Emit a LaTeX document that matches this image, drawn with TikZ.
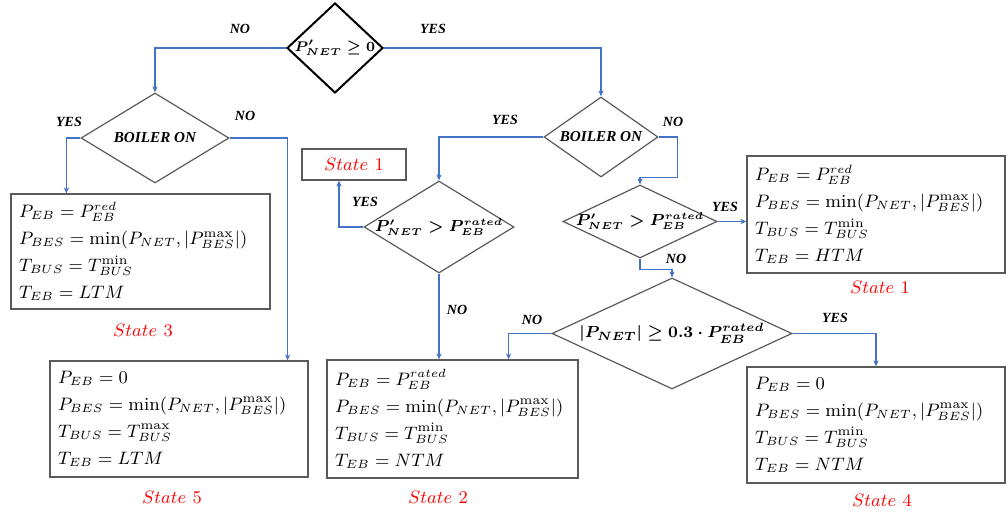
\documentclass[tikz,border=0pt]{standalone}
\usepackage{fontspec}
\newfontfamily\labfont{Liberation Serif}
\usetikzlibrary{shapes.geometric,arrows.meta}
\definecolor{flowblue}{RGB}{68,114,196}
\definecolor{edgegray}{RGB}{90,90,90}
\definecolor{statered}{RGB}{255,0,0}
\tikzset{
  dia/.style={diamond, draw=edgegray, line width=0.6pt, inner sep=0pt},
  topdia/.style={diamond, draw=black, line width=1pt, inner sep=0pt},
  statebox/.style={draw=edgegray, line width=0.6pt, rectangle, inner xsep=4pt, inner ysep=0pt,
    align=left, font=\fontsize{9.2}{13.5}\selectfont},
  flow/.style={draw=flowblue, line width=0.7pt, -{Stealth[length=3pt,width=2.6pt]}},
  yn/.style={font=\labfont\bfseries\itshape\fontsize{7}{8}\selectfont, inner sep=1pt},
  stlabel/.style={text=statered, font=\fontsize{9.5}{11}\selectfont, inner sep=1pt},
  dtext/.style={font=\boldmath\fontsize{#1}{#1}\selectfont, inner sep=0pt},
}
\begin{document}
\begin{tikzpicture}[x=0.5pt,y=-0.5pt]
\useasboundingbox (0,0) rectangle (1008,512);

% diamonds
\node[topdia, minimum width=48pt, minimum height=45pt,
  label={[dtext=7.2]center:{$P'_{NET}\geq 0$}}] (d0) at (335,48) {};
\node[dia, minimum width=74pt, minimum height=45pt,
  label={[yn, font=\labfont\bfseries\itshape\fontsize{7.6}{8}\selectfont]center:{BOILER ON}}] (dl) at (155,138) {};
\node[dia, minimum width=57pt, minimum height=40pt,
  label={[yn, font=\labfont\bfseries\itshape\fontsize{7.6}{8}\selectfont]center:{BOILER ON}}] (dr) at (601,137) {};
\node[dia, minimum width=75pt, minimum height=46pt,
  label={[dtext=7.8]center:{$P'_{NET} > P_{EB}^{rated}$}}] (dm) at (439,227) {};
\node[dia, minimum width=77pt, minimum height=36.5pt,
  label={[dtext=7.8]center:{$P'_{NET} > P_{EB}^{rated}$}}] (dr2) at (640,221.5) {};
\node[dia, minimum width=120pt, minimum height=55.5pt,
  label={[dtext=8.5]center:{$|P_{NET}|\geq 0.3\cdot P_{EB}^{rated}$}}] (db) at (672,333.5) {};

% state boxes
\node[statebox, text width=121.5pt, minimum height=57.5pt] (s3) at (140.5,251.5)
  {$P_{EB} = P_{EB}^{red}$\\ \mbox{$P_{BES} = \min(P_{NET}, |P_{BES}^{\max}|)$}\\ $T_{BUS} = T_{BUS}^{\min}$\\ $T_{EB} = LTM$};
\node[statebox, text width=121pt, minimum height=58pt] (s5) at (179,419)
  {$P_{EB} = 0$\\ \mbox{$P_{BES} = \min(P_{NET}, |P_{BES}^{\max}|)$}\\ $T_{BUS} = T_{BUS}^{\max}$\\ $T_{EB} = LTM$};
\node[statebox, text width=117.5pt, minimum height=59pt] (s2) at (452.5,419)
  {$P_{EB} = P_{EB}^{rated}$\\ \mbox{$P_{BES} = \min(P_{NET}, |P_{BES}^{\max}|)$}\\ $T_{BUS} = T_{BUS}^{\min}$\\ $T_{EB} = NTM$};
\node[statebox, text width=121pt, minimum height=58.5pt] (s1r) at (876,214.5)
  {$P_{EB} = P_{EB}^{red}$\\ \mbox{$P_{BES} = \min(P_{NET}, |P_{BES}^{\max}|)$}\\ $T_{BUS} = T_{BUS}^{\min}$\\ $T_{EB} = HTM$};
\node[statebox, text width=121pt, minimum height=58pt] (s4) at (876,425)
  {$P_{EB} = 0$\\ \mbox{$P_{BES} = \min(P_{NET}, |P_{BES}^{\max}|)$}\\ $T_{BUS} = T_{BUS}^{\min}$\\ $T_{EB} = NTM$};
\node[draw=edgegray, line width=0.6pt, minimum width=52pt, minimum height=15.5pt, inner sep=0pt,
  text=statered, font=\fontsize{9.5}{11}\selectfont] (s1s) at (354,164.5) {$State~1$};

% state labels
\node[stlabel] (st3) at (143,330) {$State~3$};
\node[stlabel] (st5) at (172,497) {$State~5$};
\node[stlabel] (st2) at (438,497) {$State~2$};
\node[stlabel] (st1) at (880,287) {$State~1$};
\node[stlabel] (st4) at (882,500) {$State~4$};

% connectors
\draw[flow] (d0.west) -| (dl.north);
\draw[flow] (d0.east) -| (dr.north);
\draw[flow] (dl.west) -| ([xshift=28pt]s3.north west);
\draw[flow] (dl.east) -| ([xshift=-10.5pt]s5.north east);
\draw[flow] (dr.west) -| (dm.north);
\draw[flow] (dm.west) -| ([xshift=-7.5pt]s1s.south);
\draw[flow] (dm.south) -- (dm.south |- s2.north);
\draw[flow] (dr.east) -- ++(19,0) |- ([yshift=3.5pt]dr2.north) -- (dr2.north);
\draw[flow] (dr2.east) -- (dr2.east -| s1r.west);
\draw[flow] (dr2.south) -- ++(0,11) -| (db.north);
\draw[flow] (db.west) -| ([xshift=-35pt]s2.north east);
\draw[flow] (db.east) -| (s4.north);

% yes/no labels
\node[yn] (l1) at (240,29) {NO};
\node[yn] (l2) at (433,29) {YES};
\node[yn] (l3) at (69,122) {YES};
\node[yn] (l4) at (245,116) {NO};
\node[yn] (l5) at (505,120) {YES};
\node[yn] (l6) at (673,122) {NO};
\node[yn] (l7) at (365,202) {YES};
\node[yn] (l8) at (725,207) {YES};
\node[yn] (l9) at (676,259) {NO};
\node[yn] (l10) at (457,310) {NO};
\node[yn] (l11) at (532,320) {NO};
\node[yn] (l12) at (835,318) {YES};
\end{tikzpicture}
\end{document}
